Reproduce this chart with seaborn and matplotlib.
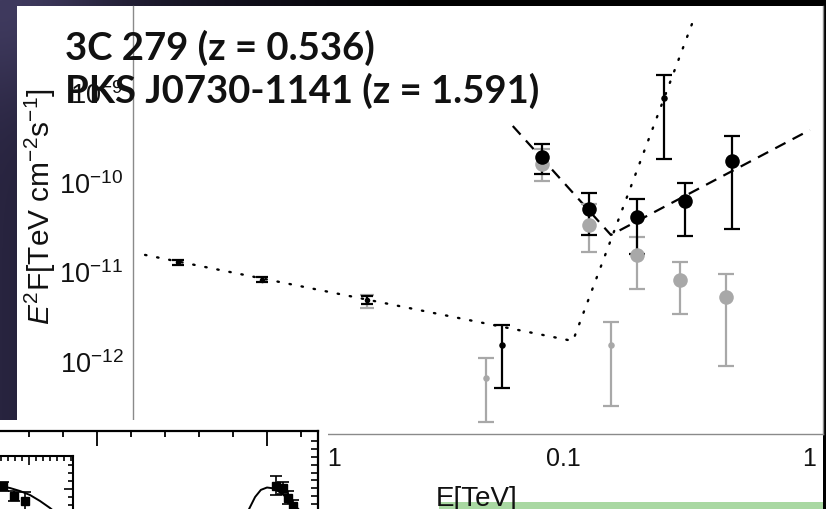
import numpy as np
import matplotlib
matplotlib.use("Agg")
import matplotlib.pyplot as plt
import seaborn as sns
from matplotlib.patches import Rectangle
from matplotlib.colors import to_rgb
from matplotlib.ticker import FixedLocator, NullFormatter

# ---------------- spectral data (E in TeV, E^2 F in TeV cm^-2 s^-1) ----------------
# Fermi-LAT points
lat_E = [0.00272, 0.00596, 0.0159]
lat_F = [1.27e-11, 7.98e-12, 4.75e-12]
lat_lo = [1.18e-11, 7.56e-12, 4.30e-12]
lat_hi = [1.33e-11, 8.60e-12, 5.28e-12]
lat_gray_F = [4.6e-12]
lat_gray_lo = [3.9e-12]
lat_gray_hi = [5.4e-12]

# small markers (PKS J0730-1141)
pks_E = [0.0564, 0.2566]
pks_F = [1.50e-12, 8.61e-10]
pks_lo = [4.95e-13, 1.795e-10]
pks_hi = [2.51e-12, 1.556e-9]
pks_gray_E = [0.0485, 0.1563]
pks_gray_F = [6.41e-13, 1.50e-12]
pks_gray_lo = [2.07e-13, 3.12e-13]
pks_gray_hi = [1.07e-12, 2.70e-12]

# large markers (3C 279)
c279_E = [0.0819, 0.1272, 0.1993, 0.3125, 0.485]
c279_F = [1.89e-10, 4.95e-11, 4.04e-11, 6.08e-11, 1.70e-10]
c279_lo = [1.22e-10, 2.53e-11, 1.56e-11, 2.47e-11, 2.96e-11]
c279_hi = [2.64e-10, 7.48e-11, 6.41e-11, 9.67e-11, 3.24e-10]
c279_gray_E = [0.0819, 0.1272, 0.1993, 0.298, 0.4585]
c279_gray_F = [1.58e-10, 3.28e-11, 1.52e-11, 7.98e-12, 5.15e-12]
c279_gray_lo = [1.02e-10, 1.64e-11, 6.32e-12, 3.33e-12, 8.73e-13]
c279_gray_hi = [2.32e-10, 5.64e-11, 2.41e-11, 1.27e-11, 9.31e-12]

# broken power-law models
dot_E = [0.0020, 0.1095, 0.3336]
dot_F = [1.52e-11, 1.66e-12, 5.78e-9]
dash_E = [0.0624, 0.1563, 1.006]
dash_F = [4.19e-10, 2.54e-11, 3.78e-10]

y_ticks = [1e-12, 1e-11, 1e-10, 1e-9]
x_ticks = [0.01, 0.1, 1]
x_tick_labels = ["0.01", "0.1", "1"]

title_lines = ["3C 279 (z = 0.536)", "PKS J0730-1141 (z = 1.591)"]

# ---------------- small inset figure (arbitrary units) ----------------
ins_curve_u = [4.44, 4.65, 4.82, 5.0, 5.18, 5.38, 5.59, 5.82, 6.03]
ins_curve_v = [9.9, 8.1, 7.2, 6.9, 7.0, 7.5, 8.2, 9.2, 10.1]
ins_pts_u = [5.26, 5.47, 5.62, 5.76]
ins_pts_v = [6.7, 6.96, 8.2, 9.24]
ins_pts_err = [1.2, 0.7, 0.8, 0.75]

inner_curve_a = [-4.9, -4.19, -2.76, -1.33, 0.1, 1.53, 2.96, 3.81]
inner_curve_b = [-0.5, -0.375, -0.125, 0.25, 0.75, 1.5, 2.375, 3.0]
inner_pts_a = [-3.76, -2.19, -0.61]
inner_pts_b = [-0.34, 0.91, 1.46]
inner_pts_err = [0.55, 0.62, 1.12]

# ---------------- style ----------------
sns.set_theme(style="white")
plt.rcParams["font.family"] = ["Liberation Sans", "DejaVu Sans"]
plt.rcParams["mathtext.fontset"] = "custom"
plt.rcParams["mathtext.rm"] = "Liberation Sans"
plt.rcParams["mathtext.it"] = "Liberation Sans:italic"
plt.rcParams["mathtext.bf"] = "Liberation Sans:bold"

W, H = 826, 510
fig = plt.figure(figsize=(W / 100, H / 100), dpi=100)


def fx(px):
    return px / W


def fy(py):
    return 1 - py / H


# slide background: navy fading to black towards the right on the top strip
bg = fig.add_axes([0, 0, 1, 1], zorder=-10)
bg.axis("off")
xx, yy = np.meshgrid(np.linspace(0, W, 200), np.linspace(0, H, 120))
navy = np.array(to_rgb("#28243f"))
light = np.array(to_rgb("#3f3a5e"))
t = np.clip(xx / 420.0, 0, 1)[..., None]
img = navy * (1 - t)
glow = np.exp(-((xx) ** 2 + (yy) ** 2) / (2 * 70.0 ** 2))[..., None]
img = img * (1 - glow) + light * glow
bg.imshow(img, extent=[0, W, H, 0], aspect="auto", interpolation="bilinear")
bg.set_xlim(0, W)
bg.set_ylim(H, 0)

# white slide panel
fig.add_artist(Rectangle((fx(17), 0), fx(823) - fx(17), fy(7), transform=fig.transFigure,
                         facecolor="white", edgecolor="none", zorder=-5))

# ---------------- main SED axes ----------------
ax = fig.add_axes([fx(133), fy(435), fx(823) - fx(133), fy(7) - fy(435)], zorder=1)
ax.set_facecolor("none")
ax.set_xscale("log")
ax.set_yscale("log")
ax.set_xlim(10 ** -2.748, 10 ** 0.0557)
ax.set_ylim(10 ** -12.819, 10 ** -8.037)

gray = "#a8a8a8"
black = "#000000"


def bars(E, F, lo, hi, color, lw, cap, z):
    F = np.asarray(F)
    yerr = [F - np.asarray(lo), np.asarray(hi) - F]
    ax.errorbar(E, F, yerr=yerr, fmt="none", ecolor=color, elinewidth=lw,
                capsize=cap, capthick=lw, zorder=z)


# models
sns.lineplot(x=dot_E, y=dot_F, ax=ax, color="black", lw=1.7, sort=False, zorder=2)
ax.lines[-1].set_dashes((0.6, 4.6))
ax.lines[-1].set_dash_capstyle("round")
sns.lineplot(x=dash_E, y=dash_F, ax=ax, color="black", lw=1.6, sort=False, zorder=2)
ax.lines[-1].set_dashes((5.2, 3.6))

# error bars
bars(c279_gray_E, c279_gray_F, c279_gray_lo, c279_gray_hi, gray, 1.6, 5.5, 3)
bars(pks_gray_E, pks_gray_F, pks_gray_lo, pks_gray_hi, gray, 1.6, 5.5, 3)
bars(lat_E[2:], lat_gray_F, lat_gray_lo, lat_gray_hi, gray, 1.6, 5.0, 3)
bars(c279_E, c279_F, c279_lo, c279_hi, black, 1.6, 5.5, 4)
bars(pks_E, pks_F, pks_lo, pks_hi, black, 1.6, 5.5, 4)
bars(lat_E, lat_F, lat_lo, lat_hi, black, 1.6, 4.0, 4)

# markers
sns.scatterplot(x=c279_gray_E, y=c279_gray_F, ax=ax, color=gray, s=110, linewidth=0, zorder=5)
sns.scatterplot(x=pks_gray_E, y=pks_gray_F, ax=ax, color=gray, s=22, linewidth=0, zorder=5)
sns.scatterplot(x=c279_E, y=c279_F, ax=ax, color=black, s=110, linewidth=0, zorder=6)
sns.scatterplot(x=pks_E, y=pks_F, ax=ax, color=black, s=22, linewidth=0, zorder=6)
sns.scatterplot(x=lat_E, y=lat_F, ax=ax, color=black, s=16, linewidth=0, zorder=6)

# axes styling
ax.spines["top"].set_visible(False)
for side in ["left", "bottom", "right"]:
    ax.spines[side].set_color("#8a8a8a")
    ax.spines[side].set_linewidth(1.0)
ax.set_yticks(y_ticks)
ax.set_xticks(x_ticks)
ax.set_xticklabels(x_tick_labels)
ax.minorticks_off()
ax.tick_params(axis="both", which="major", direction="in", length=2.5, width=0.8,
               color="#8a8a8a", labelcolor="#111111")
ax.tick_params(axis="y", pad=7, right=False, labelsize=19.5)
ax.tick_params(axis="x", pad=9, labelsize=18)
ax.set_xlabel("")
ax.set_ylabel("")

fig.text(fx(436), fy(506), "E[TeV]", fontsize=20, color="#111111", va="baseline", ha="left")
fig.text(fx(50), fy(207), r"$E^2$F[TeV cm$^{-2}$s$^{-1}$]", fontsize=21.5, color="#111111",
         rotation=90, va="baseline", ha="center", rotation_mode="anchor")

# green bar at the bottom of the slide
fig.add_artist(Rectangle((fx(439), 0), fx(823) - fx(439), fy(503), transform=fig.transFigure,
                         facecolor="#a9d8a2", edgecolor="none", zorder=2))

# titles
for i, line in enumerate(title_lines):
    fig.text(fx(65), fy(60 + 43 * i), line, fontsize=27.5, fontweight="bold",
             family=["Lato", "DejaVu Sans"], color="#111111", va="baseline", ha="left",
             zorder=10)

# ---------------- inset figure in the lower left ----------------
fig.add_artist(Rectangle((0, 0), fx(328), fy(421), transform=fig.transFigure,
                         facecolor="white", edgecolor="none", zorder=4))

ins = fig.add_axes([fx(-40), fy(600), fx(318) - fx(-40), fy(432) - fy(600)], zorder=5)
ins.set_facecolor("white")
ins.set_xlim((-40 - 97) / 34, (318 - 97) / 34)
ins.set_ylim((600 - 434) / 7.9, (432 - 434) / 7.9)
for side in ["top", "right"]:
    ins.spines[side].set_color("black")
    ins.spines[side].set_linewidth(1.6)
for side in ["left", "bottom"]:
    ins.spines[side].set_visible(False)
ins.xaxis.tick_top()
ins.yaxis.tick_right()
ins.xaxis.set_major_locator(FixedLocator([0, 5]))
ins.xaxis.set_minor_locator(FixedLocator([-3, -2, -1, 1, 2, 3, 4, 6]))
ins.yaxis.set_major_locator(FixedLocator([]))
ins.yaxis.set_minor_locator(FixedLocator(list(range(1, 21))))
ins.xaxis.set_major_formatter(NullFormatter())
ins.yaxis.set_major_formatter(NullFormatter())
ins.tick_params(axis="x", which="major", direction="in", length=11, width=1.3, color="black")
ins.tick_params(axis="x", which="minor", direction="in", length=4.5, width=1.3, color="black")
ins.tick_params(axis="y", which="minor", direction="in", length=5, width=1.2, color="black")
sns.lineplot(x=ins_curve_u, y=ins_curve_v, ax=ins, color="black", lw=1.4, sort=False, zorder=2)
ins.errorbar(ins_pts_u, ins_pts_v, yerr=ins_pts_err, fmt="s", color="black", ms=5.5,
             elinewidth=1.2, capsize=4, capthick=1.2, zorder=3)

inner = fig.add_axes([fx(-40), fy(600), fx(73) - fx(-40), fy(457) - fy(600)], zorder=6)
inner.set_facecolor("white")
inner.set_xlim((-40 - 29.3) / 7.0, (73 - 29.3) / 7.0)
inner.set_ylim((600 - 490) / 8.0, (457 - 490) / 8.0)
for side in ["top", "right"]:
    inner.spines[side].set_color("black")
    inner.spines[side].set_linewidth(1.5)
for side in ["left", "bottom"]:
    inner.spines[side].set_visible(False)
inner.xaxis.tick_top()
inner.yaxis.tick_right()
inner.xaxis.set_major_locator(FixedLocator([0]))
inner.xaxis.set_minor_locator(FixedLocator([-4, -3, -2, -1, 1, 2, 3, 4, 5, 6]))
inner.yaxis.set_major_locator(FixedLocator([0]))
inner.yaxis.set_minor_locator(FixedLocator([-3, -2, -1, 1, 2, 3, 4, 5, 6]))
inner.xaxis.set_major_formatter(NullFormatter())
inner.yaxis.set_major_formatter(NullFormatter())
inner.tick_params(which="major", direction="in", length=6.5, width=1.2, color="black")
inner.tick_params(which="minor", direction="in", length=3.6, width=1.2, color="black")
sns.lineplot(x=inner_curve_a, y=inner_curve_b, ax=inner, color="black", lw=1.4, sort=False, zorder=2)
inner.errorbar(inner_pts_a, inner_pts_b, yerr=inner_pts_err, fmt="s", color="black", ms=5.5,
               elinewidth=1.2, capsize=4, capthick=1.2, zorder=3)

fig.savefig("out.png", dpi=100)
